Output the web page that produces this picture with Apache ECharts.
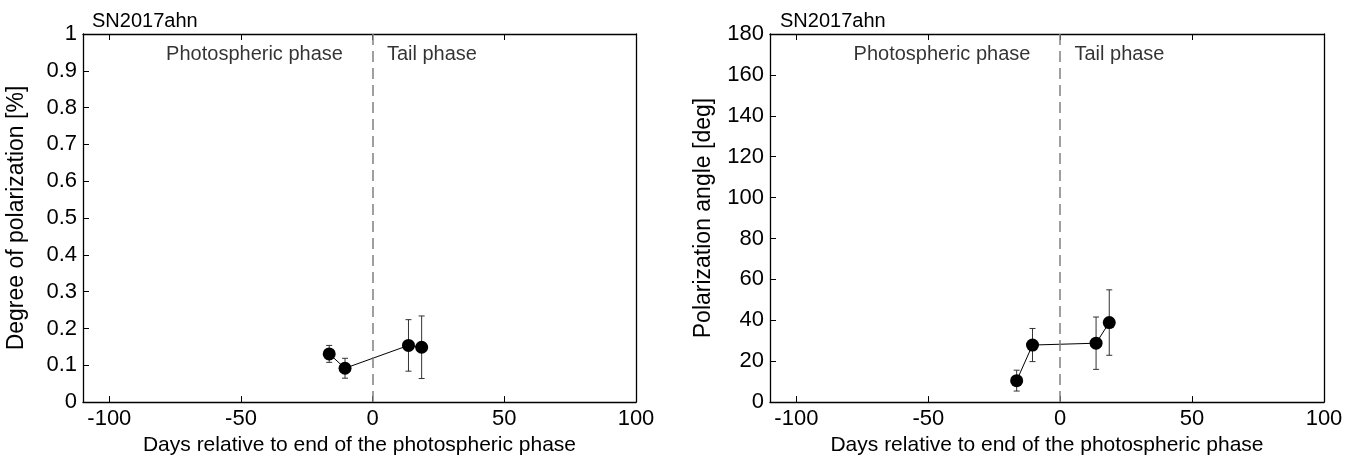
<!DOCTYPE html>
<html><head><meta charset="utf-8">
<script src="https://cdn.jsdelivr.net/npm/echarts@6/dist/echarts.min.js"></script>
<style>html,body{margin:0;padding:0;background:#fff}#c{width:1367px;height:461px}</style>
</head><body><div id="c"></div>
<script>
// ---- data ----
const days = [-16.5, -10.5, 13.6, 18.6];
const polDegree = [0.131, 0.092, 0.154, 0.149];
const polDegreeErr = [0.023, 0.027, 0.070, 0.085];
const polAngle = [10.5, 27.9, 28.8, 38.9];
const polAngleErr = [5.1, 8.1, 12.8, 16.0];
const xTicks = [-100, -50, 0, 50, 100];
const objectName = 'SN2017ahn';
const xName = 'Days relative to end of the photospheric phase';
const yNames = ['Degree of polarization [%]', 'Polarization angle [deg]'];
const phaseLabels = ['Photospheric phase', 'Tail phase'];
// annotation anchor positions in data units (x days, y fraction of axis max)
const phaseLabelX = [-11.3, 5.4];
const phaseLabelYFrac = 0.944;

const FONT = '"Liberation Sans", Arial, Helvetica, sans-serif';
const chart = echarts.init(document.getElementById('c'));

function pairs(xs, ys){ return xs.map((x,i)=>[x, ys[i]]); }
function errData(xs, ys, es){ return xs.map((x,i)=>[x, ys[i]-es[i], ys[i]+es[i]]); }

function makeX(gi){
  return [
    { gridIndex: gi, type: 'value', min: -110, max: 100, position: 'bottom',
      axisLine: { onZero: false, lineStyle: { color: '#000', width: 1.3 } },
      axisTick: { inside: true, length: 6, customValues: xTicks, lineStyle: { color: '#000' } },
      axisLabel: { customValues: xTicks, color: '#000', fontSize: 22, fontFamily: FONT, margin: 6 },
      splitLine: { show: false },
      name: xName, nameLocation: 'middle', nameGap: 31,
      nameTextStyle: { color: '#000', fontSize: 21, fontFamily: FONT } },
    { gridIndex: gi, type: 'value', min: -110, max: 100, position: 'top',
      axisLine: { onZero: false, lineStyle: { color: '#000', width: 1.3 } },
      axisTick: { inside: true, length: 6, customValues: xTicks, lineStyle: { color: '#000' } },
      axisLabel: { show: false }, splitLine: { show: false } }
  ];
}
function makeY(gi, max, interval, name){
  return [
    { gridIndex: gi, type: 'value', min: 0, max: max, interval: interval, position: 'left',
      axisLine: { show: true, onZero: false, lineStyle: { color: '#000', width: 1.3 } },
      axisTick: { show: true, inside: true, length: 6, lineStyle: { color: '#000' } },
      axisLabel: { color: '#000', fontSize: 22, fontFamily: FONT, margin: 6 },
      splitLine: { show: false },
      name: name, nameLocation: 'middle', nameGap: 55,
      nameTextStyle: { color: '#000', fontSize: 23, fontFamily: FONT } },
    { gridIndex: gi, type: 'value', min: 0, max: max, interval: interval, position: 'right',
      axisLine: { show: true, onZero: false, lineStyle: { color: '#000', width: 1.3 } },
      axisTick: { show: false }, axisLabel: { show: false }, splitLine: { show: false } }
  ];
}

function errSeries(xi, yi, data){
  return {
    type: 'custom', xAxisIndex: xi, yAxisIndex: yi, data: data, z: 2,
    renderItem: function(params, api){
      const x = api.value(0);
      const lo = api.coord([x, api.value(1)]);
      const hi = api.coord([x, api.value(2)]);
      const w = 3;
      const st = { stroke: '#333', lineWidth: 1 };
      return { type: 'group', children: [
        { type: 'line', shape: { x1: lo[0], y1: lo[1], x2: hi[0], y2: hi[1] }, style: st },
        { type: 'line', shape: { x1: lo[0]-w, y1: lo[1], x2: lo[0]+w, y2: lo[1] }, style: st },
        { type: 'line', shape: { x1: hi[0]-w, y1: hi[1], x2: hi[0]+w, y2: hi[1] }, style: st }
      ]};
    }
  };
}
function lineSeries(xi, yi, data){
  return {
    type: 'line', xAxisIndex: xi, yAxisIndex: yi, data: data, z: 3,
    symbol: 'circle', symbolSize: 13, itemStyle: { color: '#000' },
    lineStyle: { color: '#000', width: 1 }, animation: false,
    markLine: { silent: true, symbol: 'none', label: { show: false },
      lineStyle: { color: '#808080', type: [11, 6], width: 1.5 },
      data: [{ xAxis: 0 }] }
  };
}
function labelSeries(xi, yi, ymax){
  return {
    type: 'scatter', xAxisIndex: xi, yAxisIndex: yi, symbolSize: 0, silent: true,
    data: [
      { value: [phaseLabelX[0], ymax*phaseLabelYFrac], label: { show: true, formatter: phaseLabels[0], position: [0,0], align: 'right', verticalAlign: 'middle', color: '#000', fontSize: 20, fontFamily: FONT } },
      { value: [phaseLabelX[1], ymax*phaseLabelYFrac], label: { show: true, formatter: phaseLabels[1], position: [0,0], align: 'left', verticalAlign: 'middle', color: '#000', fontSize: 20, fontFamily: FONT } }
    ]
  };
}

const option = {
  animation: false,
  backgroundColor: '#fff',
  title: [
    { text: objectName, left: 87, top: 6, textStyle: { color: '#000', fontSize: 20, fontWeight: 'normal', fontFamily: FONT } },
    { text: objectName, left: 775, top: 6, textStyle: { color: '#000', fontSize: 20, fontWeight: 'normal', fontFamily: FONT } }
  ],
  grid: [
    { left: 83, right: 731, top: 34, bottom: 57 },
    { left: 770, right: 43, top: 34, bottom: 57 }
  ],
  xAxis: [...makeX(0), ...makeX(1)],
  yAxis: [...makeY(0, 1, 0.1, yNames[0]), ...makeY(1, 180, 20, yNames[1])],
  series: [
    errSeries(0, 0, errData(days, polDegree, polDegreeErr)),
    lineSeries(0, 0, pairs(days, polDegree)),
    labelSeries(0, 0, 1),
    errSeries(2, 2, errData(days, polAngle, polAngleErr)),
    lineSeries(2, 2, pairs(days, polAngle)),
    labelSeries(2, 2, 180)
  ]
};
chart.setOption(option);
</script></body></html>
